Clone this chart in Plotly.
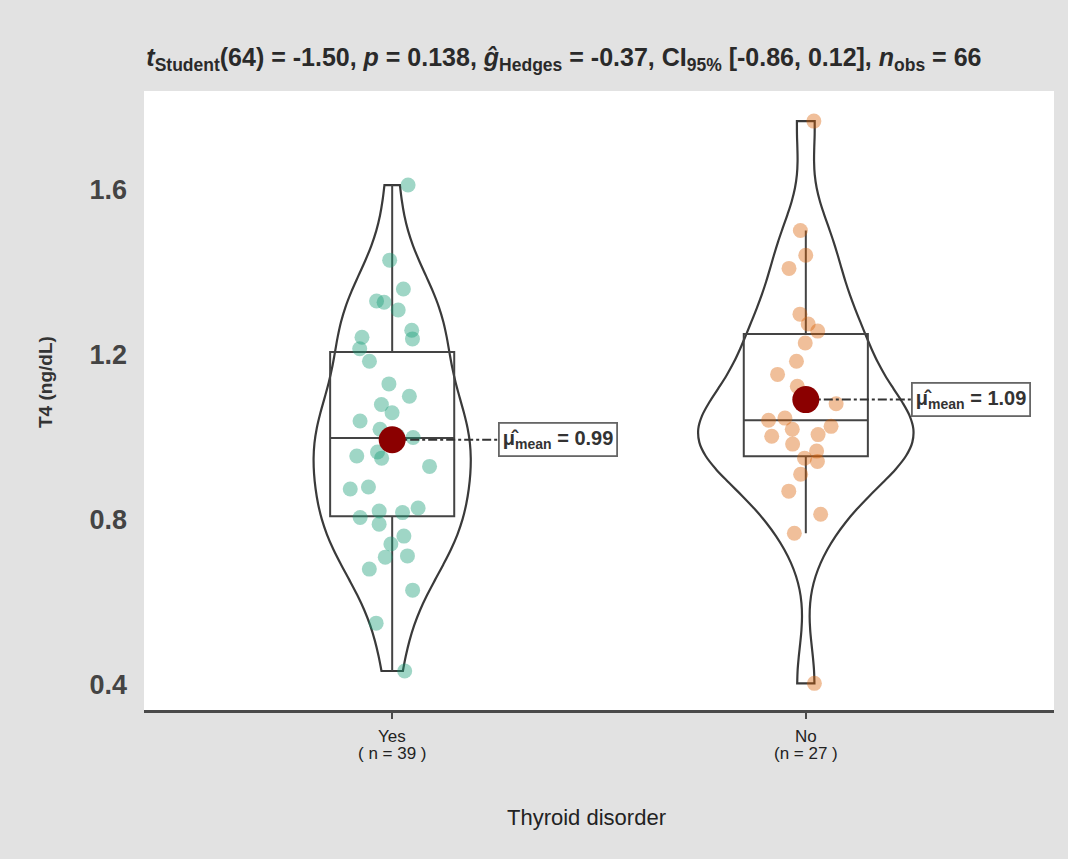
import numpy as np
import plotly.graph_objects as go

# T4 measurements (ng/dL) by thyroid-disorder status
groups = ["Yes", "No"]
yes_t4 = [1.612, 1.430, 1.360, 1.331, 1.328, 1.309, 1.260, 1.243, 1.239, 1.215,
          1.185, 1.130, 1.100, 1.080, 1.060, 1.040, 1.020, 1.005, 1.000, 0.999,
          0.965, 0.955, 0.950, 0.930, 0.880, 0.875, 0.829, 0.822, 0.818, 0.806,
          0.790, 0.761, 0.742, 0.713, 0.710, 0.681, 0.630, 0.550, 0.434]
no_t4 = [1.767, 1.502, 1.442, 1.410, 1.299, 1.275, 1.258, 1.229, 1.185, 1.153,
         1.124, 1.082, 1.047, 1.042, 1.007, 1.027, 1.020, 1.003, 0.984, 0.967,
         0.950, 0.942, 0.911, 0.870, 0.814, 0.768, 0.404]
y_ticks = [0.4, 0.8, 1.2, 1.6]

subtitle = ("<i>t</i><sub>Student</sub>(64) = -1.50, <i>p</i> = 0.138, "
            "<i>ĝ</i><sub>Hedges</sub> = -0.37, CI<sub>95%</sub> [-0.86, 0.12], "
            "<i>n</i><sub>obs</sub> = 66")
x_title = "Thyroid disorder"
y_title = "T4 (ng/dL)"

series = [yes_t4, no_t4]
point_colors = ["rgba(27,158,119,0.42)", "rgba(217,95,2,0.40)"]
violin_widths = [0.38, 0.52]
outline = "#3a3a3a"
font_family = "Liberation Sans, Arial, sans-serif"


def nrd0(v):
    v = np.asarray(v, dtype=float)
    iqr = np.subtract(*np.percentile(v, [75, 25]))
    return 0.9 * min(v.std(ddof=1), iqr / 1.34) * len(v) ** -0.2


fig = go.Figure()

# violins
for i, vals in enumerate(series):
    fig.add_trace(go.Violin(
        x=[i] * len(vals), y=vals, points=False, spanmode="hard",
        bandwidth=nrd0(vals), width=violin_widths[i], scalegroup=f"g{i}",
        scalemode="width", fillcolor="rgba(255,255,255,0)",
        line=dict(color=outline, width=2.2), box_visible=False,
        meanline_visible=False, hoverinfo="skip", showlegend=False))

# boxes with jittered raw points
for i, vals in enumerate(series):
    fig.add_trace(go.Box(
        x=[i] * len(vals), y=vals, boxpoints="all", jitter=0.75, pointpos=0,
        width=0.3, whiskerwidth=0, fillcolor="rgba(255,255,255,0)",
        line=dict(color="#444444", width=2),
        marker=dict(color=point_colors[i], size=15, line=dict(width=0)),
        showlegend=False))

means = [float(np.mean(v)) for v in series]

# dash-dot leaders from each mean to its label
for i, m in enumerate(means):
    fig.add_trace(go.Scatter(
        x=[i, i + 0.4], y=[m, m], mode="lines",
        line=dict(color="#333333", width=2, dash="dashdot"),
        hoverinfo="skip", showlegend=False))

fig.add_trace(go.Scatter(
    x=list(range(len(means))), y=means, mode="markers",
    marker=dict(size=27, color="#8b0000"), showlegend=False))

for i, m in enumerate(means):
    fig.add_annotation(
        x=i + 0.4, y=m, xref="x", yref="y", showarrow=False,
        text=f"<b>μ̂<sub>mean</sub> = {m:.2f}</b>",
        font=dict(family=font_family, size=20, color="#333333"),
        bgcolor="white", bordercolor="#666666", borderwidth=1.8, borderpad=3)

# category labels with sample sizes underneath
n_labels = [f"( n = {len(series[0])} )", f"(n = {len(series[1])} )"]
for i, g in enumerate(groups):
    fig.add_annotation(x=i, y=0, xref="x", yref="paper", yanchor="middle",
                       yshift=-26, showarrow=False, text=g,
                       font=dict(family=font_family, size=17, color="#222222"))
    fig.add_annotation(x=i, y=0, xref="x", yref="paper", yanchor="middle",
                       yshift=-43, showarrow=False, text=n_labels[i],
                       font=dict(family=font_family, size=17, color="#222222"))

fig.add_annotation(x=(586 - 144) / 910, y=0, xref="paper", yref="paper",
                   yanchor="middle", yshift=-107, showarrow=False, text=x_title,
                   font=dict(family=font_family, size=22, color="#222222"))

fig.add_annotation(x=(45 - 144) / 910, y=(710 - 382) / 619, xref="paper",
                   yref="paper", xanchor="center", yanchor="middle",
                   textangle=-90, showarrow=False, text=f"<b>{y_title}</b>",
                   font=dict(family=font_family, size=19, color="#333333"))

fig.update_layout(
    width=1068, height=859,
    margin=dict(l=144, r=14, t=91, b=149),
    paper_bgcolor="#e2e2e2", plot_bgcolor="white",
    font=dict(family=font_family, color="#333333"),
    title=dict(text=f"<b>{subtitle}</b>", x=0.528, xref="container",
               xanchor="center", y=1 - 57 / 859, yref="container",
               yanchor="middle", font=dict(size=25, color="#2a2a2a")),
    xaxis=dict(range=[-0.6, 1.6], tickvals=[0, 1], ticktext=["", ""],
               showgrid=False, zeroline=False, showline=True,
               linecolor="#4a4a4a", linewidth=2.5, ticks="outside", ticklen=6,
               tickcolor="#4a4a4a", tickwidth=2),
    yaxis=dict(range=[0.3394, 1.84], tickvals=y_ticks,
               ticktext=[f"<b>{t:.1f}</b>" for t in y_ticks],
               showgrid=False, zeroline=False, showline=False, ticks="",
               ticklabelstandoff=16,
               tickfont=dict(size=27, color="#444444")),
)

fig.write_html("out.html")
